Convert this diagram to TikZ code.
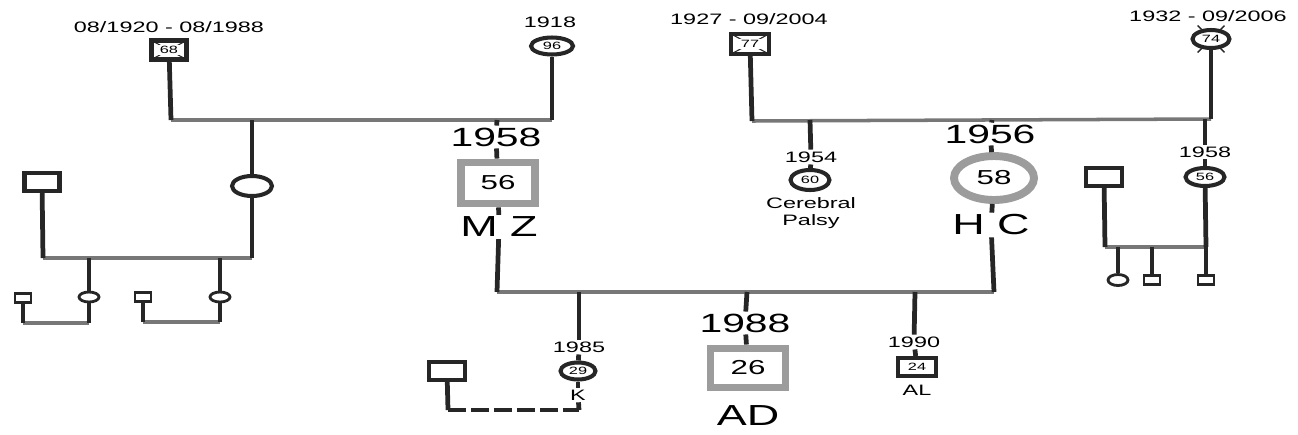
\documentclass[tikz,border=0pt]{standalone}
\usepackage{fontspec}
\setmainfont[FakeStretch=1.55]{Liberation Sans}
\usepackage{tikz}
\usetikzlibrary{positioning,calc,shapes.geometric}
\usepackage{xcolor}
\definecolor{pline}{HTML}{262626}
\definecolor{pcouple}{HTML}{777777}
\definecolor{pindex}{HTML}{9C9C9C}
\newcommand{\txtsmall}{\fontsize{8.6}{9.8}\selectfont}
\newcommand{\txtbig}{\fontsize{15}{16}\selectfont}
\newcommand{\txtname}{\fontsize{16.5}{18}\selectfont}
\newcommand{\agesmall}{\fontsize{6}{6}\selectfont}
\newcommand{\agebig}{\fontsize{11.5}{12}\selectfont}
\tikzset{
  male/.style    = {rectangle, draw=pline, line width=2.3pt, fill=white, inner sep=0pt,
                    minimum width=0.72cm, minimum height=0.36cm, font=\agesmall},
  female/.style  = {ellipse, draw=pline, line width=2.3pt, fill=white, inner sep=0pt,
                    minimum width=0.76cm, minimum height=0.34cm, font=\agesmall},
  kid/.style     = {line width=1.6pt, minimum width=0.32cm, minimum height=0.18cm},
  proband/.style = {draw=pindex, line width=4.5pt, fill=white, inner sep=0pt, font=\agebig},
  dead/.style    = {path picture={\draw[pline,line width=0.6pt]
                    (path picture bounding box.north west) -- (path picture bounding box.south east)
                    (path picture bounding box.north east) -- (path picture bounding box.south west);}},
  agebox/.style  = {fill=white, inner sep=1pt, font=\agesmall},
  yr/.style      = {font=\txtsmall, inner sep=1pt},
  yrbig/.style   = {font=\txtbig, inner sep=1pt},
  idname/.style  = {font=\txtname, inner sep=1pt},
  desc/.style    = {draw=pline, line width=2.7pt},
  couple/.style  = {draw=pcouple, line width=2pt},
}

\begin{document}
\begin{tikzpicture}[x=0.02cm,y=-0.02cm]
\useasboundingbox (0,0) rectangle (1298,434);
% ---- grandparents, left ----
\node[yr] (d68) at (169,27) {08/1920 - 08/1988};
\node[male,dead,minimum width=0.7cm,minimum height=0.38cm,label={[agebox]center:68}] (gf1) at (169,50) {};
\node[yr] (d96) at (550,22) {1918};
\node[female,minimum width=0.84cm,minimum height=0.34cm] (gm1) at (552,46) {96};
\coordinate (m1l) at (171,120);
\coordinate (m1r) at (552,120);
\draw[couple] (m1l) -- (m1r);
\draw[desc] (gf1) -- (m1l);
\draw[desc] (gm1) -- (m1r);
% ---- aunt and her family ----
\coordinate (c1a) at (252,120);
\node[female,minimum width=0.8cm,minimum height=0.4cm] (aunt) at (252,186) {};
\draw[desc] (c1a) -- (aunt);
\node[male,minimum width=0.7cm,minimum height=0.36cm] (uncle) at (42,182) {};
\coordinate (f1l) at (43,258);
\coordinate (f1r) at (252,258);
\draw[couple] (f1l) -- (f1r);
\draw[desc] (uncle) -- (f1l);
\draw[desc] (aunt) -- (f1r);
\node[female,kid,minimum width=0.4cm,minimum height=0.2cm] (k1) at (89,297) {};
\node[male,kid] (s1) at (23,298) {};
\node[female,kid,minimum width=0.4cm,minimum height=0.2cm] (k2) at (220,297) {};
\node[male,kid] (s2) at (143,297) {};
\coordinate (f1a) at (89,258);
\coordinate (f1b) at (220,258);
\draw[desc] (f1a) -- (k1);
\draw[desc] (f1b) -- (k2);
\coordinate (k1d) at (89,323);
\coordinate (s1d) at (23,323);
\coordinate (k2d) at (220,322);
\coordinate (s2d) at (143,322);
\draw[couple] (s1d) -- (k1d);
\draw[couple] (s2d) -- (k2d);
\draw[desc] (k1) -- (k1d);
\draw[desc] (s1) -- (s1d);
\draw[desc] (k2) -- (k2d);
\draw[desc] (s2) -- (s2d);
% ---- father ----
\coordinate (c1b) at (497,120);
\node[yrbig] (y58) at (496,137) {1958};
\node[proband,minimum width=1.48cm,minimum height=0.82cm] (mz) at (498,183) {56};
\node[idname] (nmz) at (499,227) {M Z};
\draw[desc] (c1b) -- (y58);
\draw[desc] (y58) -- (mz);
\draw[desc] (mz) -- (nmz);
% ---- grandparents, right ----
\node[yr] (d77) at (749,19) {1927 - 09/2004};
\node[male,dead,minimum width=0.76cm,minimum height=0.4cm,label={[agebox]center:77}] (gf2) at (750,44) {};
\node[yr] (d74) at (1208,16) {1932 - 09/2006};
\node[female,minimum width=0.74cm,minimum height=0.36cm] (gm2) at (1211,39) {74};
\foreach \a in {45,135,225,315}
  \draw[pline,line width=0.8pt] ($(gm2.\a)+(\a:-1.5pt)$) -- ($(gm2.\a)+(\a:3pt)$);
\coordinate (m2l) at (752,121);
\coordinate (m2r) at (1211,119);
\draw[couple] (m2l) -- (m2r);
\draw[desc] (gf2) -- (m2l);
\draw[desc] (gm2) -- (m2r);
% ---- uncle with cerebral palsy ----
\coordinate (c3a) at (810,120);
\node[yr] (y54) at (811,157) {1954};
\node[female,minimum width=0.78cm,minimum height=0.4cm] (c60) at (810,180) {60};
\node[yr,align=center] (cp) at (811,213) {Cerebral\\Palsy};
\draw[desc] (c3a) -- (y54);
\draw[desc] (y54) -- (c60);
% ---- mother ----
\coordinate (c3b) at (992,120);
\node[yrbig] (y56) at (990,134) {1956};
\node[proband,ellipse,minimum width=1.6cm,minimum height=0.88cm] (hc) at (994,178) {58};
\node[idname] (nhc) at (991,225) {H C};
\draw[desc] (c3b) -- (y56);
\draw[desc] (y56) -- (hc);
\draw[desc] (hc) -- (nhc);
% ---- aunt on the right and her family ----
\coordinate (c3c) at (1205,119);
\node[yr] (y58r) at (1205,152) {1958};
\node[female,minimum width=0.78cm,minimum height=0.36cm] (c56) at (1205,177) {56};
\node[male,minimum width=0.72cm,minimum height=0.36cm] (sp56) at (1104,177) {};
\draw[desc] (c3c) -- (y58r);
\draw[desc] (y58r) -- (c56);
\coordinate (f3l) at (1105,247);
\coordinate (f3r) at (1206,247);
\draw[couple] (f3l) -- (f3r);
\draw[desc] (sp56) -- (f3l);
\draw[desc] (c56) -- (f3r);
\node[female,kid,minimum width=0.4cm,minimum height=0.22cm] (g1) at (1118,280) {};
\node[male,kid] (g2) at (1152,280) {};
\node[male,kid] (g3) at (1206,280) {};
\coordinate (f3a) at (1118,247);
\coordinate (f3b) at (1152,247);
\draw[desc] (f3a) -- (g1);
\draw[desc] (f3b) -- (g2);
\draw[desc] (f3r) -- (g3);
% ---- children ----
\coordinate (c2l) at (497,292);
\coordinate (c2r) at (994,292);
\draw[couple] (c2l) -- (c2r);
\draw[desc] (nmz) -- (c2l);
\draw[desc] (nhc) -- (c2r);
\coordinate (c2k) at (579,292);
\node[yr] (y85) at (579,347) {1985};
\node[female,minimum width=0.7cm,minimum height=0.34cm] (kc) at (578,371) {29};
\node[yr] (nk) at (578,395) {K};
\draw[desc] (c2k) -- (y85);
\draw[desc] (y85) -- (kc);
\draw[desc] (kc) -- (nk);
\node[male,minimum width=0.72cm,minimum height=0.36cm] (ksp) at (447,371) {};
\coordinate (kd) at (579,410);
\coordinate (kspd) at (448,410);
\draw[desc] (nk) -- (kd);
\draw[desc] (ksp) -- (kspd);
\draw[desc,dash pattern=on 0.36cm off 0.1cm] (kspd) -- (kd);
\coordinate (c2ad) at (747,292);
\node[yrbig] (y88) at (745,323) {1988};
\node[proband,minimum width=1.5cm,minimum height=0.78cm] (ad) at (748,368) {26};
\node[idname] (nad) at (748,416) {AD};
\draw[desc] (c2ad) -- (y88);
\draw[desc] (y88) -- (ad);
\coordinate (c2al) at (915,292);
\node[yr] (y90) at (914,342) {1990};
\node[male,minimum width=0.76cm,minimum height=0.36cm] (al) at (917,367) {24};
\node[yr] (nal) at (917,390) {AL};
\draw[desc] (c2al) -- (y90);
\draw[desc] (y90) -- (al);
\end{tikzpicture}
\end{document}
